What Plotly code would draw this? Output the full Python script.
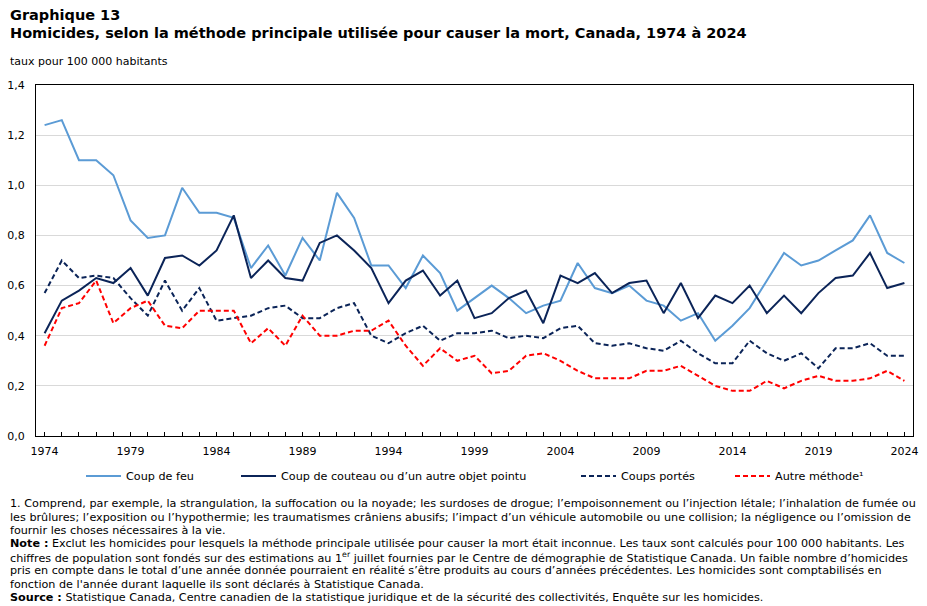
import plotly.graph_objects as go

years = list(range(1974, 2025))

coup_de_feu = [1.24, 1.26, 1.10, 1.10, 1.04, 0.86, 0.79, 0.80, 0.99, 0.89,
               0.89, 0.87, 0.67, 0.76, 0.64, 0.79, 0.70, 0.97, 0.87, 0.68,
               0.68, 0.59, 0.72, 0.65, 0.50, 0.55, 0.60, 0.55, 0.49, 0.52,
               0.54, 0.69, 0.59, 0.57, 0.60, 0.54, 0.52, 0.46, 0.49, 0.38,
               0.44, 0.51, 0.62, 0.73, 0.68, 0.70, 0.74, 0.78, 0.88, 0.73,
               0.69]

coup_de_couteau = [0.41, 0.54, 0.58, 0.63, 0.61, 0.67, 0.56, 0.71, 0.72, 0.68,
                   0.74, 0.88, 0.63, 0.70, 0.63, 0.62, 0.77, 0.80, 0.74, 0.67,
                   0.53, 0.62, 0.66, 0.56, 0.62, 0.47, 0.49, 0.55, 0.58, 0.45,
                   0.64, 0.61, 0.65, 0.57, 0.61, 0.62, 0.49, 0.61, 0.47, 0.56,
                   0.53, 0.60, 0.49, 0.56, 0.49, 0.57, 0.63, 0.64, 0.73, 0.59,
                   0.61]

coups_portes = [0.57, 0.70, 0.63, 0.64, 0.63, 0.55, 0.48, 0.62, 0.50, 0.59,
                0.46, 0.47, 0.48, 0.51, 0.52, 0.47, 0.47, 0.51, 0.53, 0.40,
                0.37, 0.41, 0.44, 0.38, 0.41, 0.41, 0.42, 0.39, 0.40, 0.39,
                0.43, 0.44, 0.37, 0.36, 0.37, 0.35, 0.34, 0.38, 0.33, 0.29,
                0.29, 0.38, 0.33, 0.30, 0.33, 0.27, 0.35, 0.35, 0.37, 0.32,
                0.32]

autre_methode = [0.36, 0.51, 0.53, 0.62, 0.45, 0.51, 0.54, 0.44, 0.43, 0.50,
                 0.50, 0.50, 0.37, 0.43, 0.36, 0.48, 0.40, 0.40, 0.42, 0.42,
                 0.46, 0.36, 0.28, 0.35, 0.30, 0.32, 0.25, 0.26, 0.32, 0.33,
                 0.30, 0.26, 0.23, 0.23, 0.23, 0.26, 0.26, 0.28, 0.24, 0.20,
                 0.18, 0.18, 0.22, 0.19, 0.22, 0.24, 0.22, 0.22, 0.23, 0.26,
                 0.22]

series_names = ["Coup de feu", "Coup de couteau ou d’un autre objet pointu",
                "Coups portés", "Autre méthode¹"]

FONT = "DejaVu Sans"
LIGHT_BLUE = "#5b9bd5"
NAVY = "#0b2458"
RED = "#ff0000"

L, R, T, B = 36, 14, 85, 170
W, H = 927, 606
PW = W - L - R
PH = H - T - B


def px_x(x):
    return (x - L) / PW


def px_y(y):
    return (H - B - y) / PH


fig = go.Figure()
fig.add_trace(go.Scatter(x=years, y=coup_de_feu, name=series_names[0], mode="lines",
                         line=dict(color=LIGHT_BLUE, width=2), legend="legend"))
fig.add_trace(go.Scatter(x=years, y=coup_de_couteau, name=series_names[1], mode="lines",
                         line=dict(color=NAVY, width=2), legend="legend2"))
fig.add_trace(go.Scatter(x=years, y=coups_portes, name=series_names[2], mode="lines",
                         line=dict(color=NAVY, width=2, dash="5px,3px"), legend="legend3"))
fig.add_trace(go.Scatter(x=years, y=autre_methode, name=series_names[3], mode="lines",
                         line=dict(color=RED, width=2, dash="5px,3px"), legend="legend4"))

annotations = []


def add_text(text, x, y, size, bold=False):
    annotations.append(dict(
        text=f"<b>{text}</b>" if bold else text,
        x=px_x(x), y=px_y(y), xref="paper", yref="paper",
        xanchor="left", yanchor="middle", showarrow=False,
        font=dict(family=FONT, size=size, color="#000000"),
        align="left",
    ))


add_text("Graphique 13", 8, 15, 14.5, bold=True)
add_text("Homicides, selon la méthode principale utilisée pour causer la mort, Canada, 1974 à 2024",
         8, 33, 14.5, bold=True)
add_text("taux pour 100 000 habitants", 8, 61, 11)

foot_lines = [
    "1. Comprend, par exemple, la strangulation, la suffocation ou la noyade; les surdoses de drogue; l’empoisonnement ou l’injection létale; l’inhalation de fumée ou",
    "les brûlures; l’exposition ou l’hypothermie; les traumatismes crâniens abusifs; l’impact d’un véhicule automobile ou une collision; la négligence ou l’omission de",
    "fournir les choses nécessaires à la vie.",
    "<b>Note :</b> Exclut les homicides pour lesquels la méthode principale utilisée pour causer la mort était inconnue. Les taux sont calculés pour 100 000 habitants. Les",
    "chiffres de population sont fondés sur des estimations au 1<sup>er</sup> juillet fournies par le Centre de démographie de Statistique Canada. Un faible nombre d’homicides",
    "pris en compte dans le total d’une année donnée pourraient en réalité s’être produits au cours d’années précédentes. Les homicides sont comptabilisés en",
    "fonction de l'année durant laquelle ils sont déclarés à Statistique Canada.",
    "<b>Source :</b> Statistique Canada, Centre canadien de la statistique juridique et de la sécurité des collectivités, Enquête sur les homicides.",
]
foot_y = [503, 517, 530, 543, 557, 570, 584, 597]
for t, yy in zip(foot_lines, foot_y):
    add_text(t, 8, yy, 11.2)


def legend_at(px):
    return dict(orientation="h", x=px_x(px), xanchor="left", y=px_y(476), yanchor="middle",
                font=dict(family=FONT, size=11.2), itemwidth=35,
                bgcolor="rgba(0,0,0,0)", borderwidth=0)


LEG_OFF = 7
fig.update_layout(
    width=W, height=H,
    margin=dict(l=L, r=R, t=T, b=B, pad=0, autoexpand=False),
    paper_bgcolor="white", plot_bgcolor="white",
    separators=", ",
    font=dict(family=FONT, size=11, color="#000000"),
    showlegend=True,
    legend=legend_at(88 - LEG_OFF),
    legend2=legend_at(243 - LEG_OFF),
    legend3=legend_at(583 - LEG_OFF),
    legend4=legend_at(737 - LEG_OFF),
    annotations=annotations,
    xaxis=dict(range=[1973.5, 2024.5], tickmode="linear", tick0=1974, dtick=5,
               ticks="inside", ticklen=4, tickcolor="#000000", automargin=False,
               minor=dict(tickmode="linear", tick0=1974, dtick=1, ticks="inside", ticklen=4,
                          tickcolor="#000000"),
               showline=True, linecolor="#000000", linewidth=1, mirror=True,
               showgrid=False, zeroline=False, fixedrange=True, ticklabelstandoff=5,
               tickfont=dict(family=FONT, size=11)),
    yaxis=dict(range=[0, 1.4], tickmode="linear", tick0=0, dtick=0.2, tickformat=".1f",
               ticks="outside", ticklen=8, tickcolor="rgba(255,255,255,0)", automargin=False,
               showline=True, linecolor="#000000", linewidth=1, mirror=True,
               showgrid=True, gridcolor="#d9d9d9", gridwidth=1, zeroline=False,
               fixedrange=True, tickfont=dict(family=FONT, size=11)),
)

fig.write_html("out.html")
